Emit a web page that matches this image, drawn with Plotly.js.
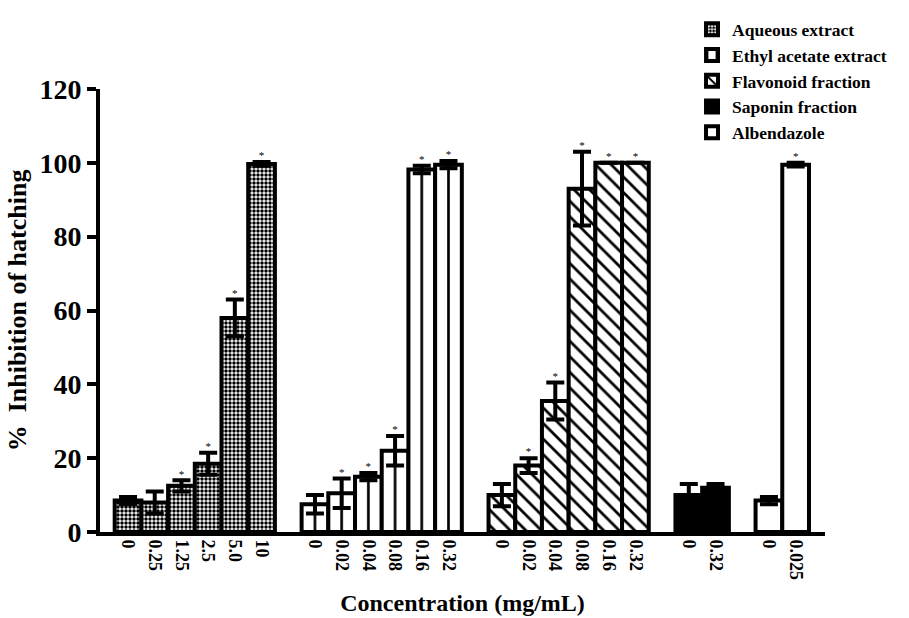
<!DOCTYPE html>
<html>
<head>
<meta charset="utf-8">
<script src="https://cdn.plot.ly/plotly-3.0.1.min.js"></script>
<style>html,body{margin:0;padding:0;background:#fff;}#chart{width:909px;height:618px;}</style>
</head>
<body>
<div id="chart"></div>
<script>
// ---- data ----
const seriesNames = ["Aqueous extract", "Ethyl acetate extract", "Flavonoid fraction", "Saponin fraction", "Albendazole"];

const aqueousConc = ["0", "0.25", "1.25", "2.5", "5.0", "10"];
const aqueousMean = [8.5, 8, 12.5, 18.5, 58, 99.7];
const aqueousErr  = [1, 3, 1.5, 3, 5, 0.5];
const aqueousSig  = [false, false, true, true, true, true];

const ethylConc = ["0", "0.02", "0.04", "0.08", "0.16", "0.32"];
const ethylMean = [7.5, 10.5, 15, 22, 98.2, 99.5];
const ethylErr  = [2.5, 4, 1, 4, 1, 1];
const ethylSig  = [false, true, true, true, true, true];

const flavConc = ["0", "0.02", "0.04", "0.08", "0.16", "0.32"];
const flavMean = [10, 18, 35.5, 93, 100, 100];
const flavErr  = [3, 2, 5, 10, 0, 0];
const flavSig  = [false, true, true, true, true, true];

const sapConc = ["0", "0.32"];
const sapMean = [10, 12];
const sapErr  = [3, 1];
const sapSig  = [false, false];

const albConc = ["0", "0.025"];
const albMean = [8.5, 99.5];
const albErr  = [1, 0.5];
const albSig  = [false, true];

// ---- geometry of the category axis ----
const X0 = -1.05, X1 = 26.1;          // axis range in slot units
const PLOT_W = 909 - 100 - 84;        // plot width in px
const SLOT = PLOT_W / (X1 - X0);      // px per slot
const D2 = (0.55 * SLOT) / PLOT_W;    // second x-axis starts at first bar edge (pattern phase)

const groups = [
  {name: seriesNames[0], conc: aqueousConc, mean: aqueousMean, err: aqueousErr, sig: aqueousSig, xa: "x",
   color: "white", pattern: {shape: ".", size: 4, solidity: 0.6, fgcolor: "black", bgcolor: "white", fillmode: "replace"}},
  {name: seriesNames[1], conc: ethylConc, mean: ethylMean, err: ethylErr, sig: ethylSig, xa: "x2",
   color: "white", pattern: {shape: "|", size: SLOT, solidity: 0.1, fgcolor: "black", bgcolor: "white", fillmode: "replace"}},
  {name: seriesNames[2], conc: flavConc, mean: flavMean, err: flavErr, sig: flavSig, xa: "x",
   color: "white", pattern: {shape: "\\", size: 11, solidity: 0.25, fgcolor: "black", bgcolor: "white", fillmode: "replace"}},
  {name: seriesNames[3], conc: sapConc, mean: sapMean, err: sapErr, sig: sapSig, xa: "x",
   color: "black", pattern: {shape: ""}},
  {name: seriesNames[4], conc: albConc, mean: albMean, err: albErr, sig: albSig, xa: "x",
   color: "white", pattern: {shape: ""}}
];

const traces = [];
const tickvals = [], ticktext = [];
const starX = [], starY = [];
let pos = 0;
groups.forEach((g) => {
  const xs = g.conc.map((c, i) => pos + i);
  xs.forEach((x, i) => {
    tickvals.push(x); ticktext.push(g.conc[i]);
    if (g.sig[i]) { starX.push(x); starY.push(g.mean[i] + g.err[i]); }
  });
  traces.push({
    type: "bar", name: g.name, x: xs, y: g.mean, width: 1, xaxis: g.xa, yaxis: "y",
    marker: {color: g.color, pattern: g.pattern, line: {color: "black", width: 4}},
    error_y: {type: "data", array: g.err, visible: true, color: "black", thickness: 4, width: 9},
    hoverinfo: "skip"
  });
  pos += g.conc.length + 1;
});

traces.push({
  type: "scatter", mode: "text", x: starX, y: starY, text: starX.map(() => "*"),
  textposition: "top center", textfont: {family: "Liberation Serif", size: 11, color: "black", weight: "normal"},
  showlegend: false, hoverinfo: "skip", cliponaxis: false
});

const F = "Liberation Serif";
const layout = {
  width: 909, height: 618,
  margin: {l: 100, r: 84, t: 85, b: 86},
  paper_bgcolor: "white", plot_bgcolor: "rgba(0,0,0,0)",
  font: {family: F, color: "black", weight: "bold"},
  barmode: "overlay", bargap: 0,
  showlegend: true,
  legend: {x: 0.8166, y: 1.175, xanchor: "left", yanchor: "top",
           font: {family: F, size: 17.5, color: "black", weight: "bold"},
           bgcolor: "rgba(0,0,0,0)", tracegroupgap: 0},
  xaxis: {
    range: [X0, X1], tickmode: "array", tickvals: tickvals, ticktext: ticktext,
    tickangle: 90, ticks: "", showgrid: false, zeroline: false,
    showline: true, linecolor: "black", linewidth: 4,
    tickfont: {family: F, size: 18, color: "black", weight: "bold"},
    title: {text: "Concentration (mg/mL)", font: {family: F, size: 24, color: "black", weight: "bold"}, standoff: 16}
  },
  xaxis2: {
    domain: [D2, 1], range: [X0 + 0.55, X1], anchor: "y", visible: false,
    showgrid: false, zeroline: false, showline: false, showticklabels: false
  },
  yaxis: {
    range: [0, 120], dtick: 20, tick0: 0, ticks: "outside", ticklen: 9, tickwidth: 4, tickcolor: "black",
    showgrid: false, zeroline: false, showline: true, linecolor: "black", linewidth: 4,
    tickfont: {family: F, size: 28, color: "black", weight: "bold"},
    title: {text: "%  Inhibition of hatching", font: {family: F, size: 26, color: "black", weight: "bold"}, standoff: 6}
  }
};

Plotly.newPlot("chart", traces, layout, {displayModeBar: false, staticPlot: true});
</script>
</body>
</html>
